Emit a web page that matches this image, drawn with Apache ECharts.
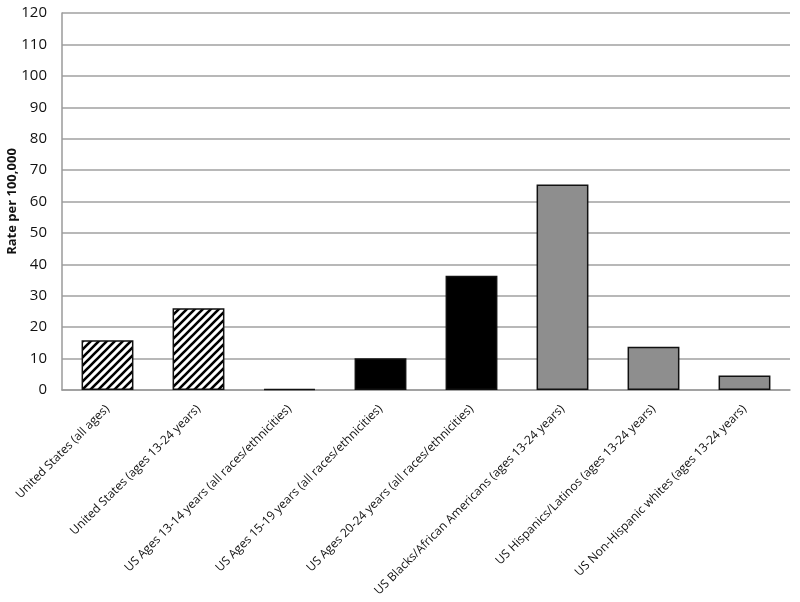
<!DOCTYPE html>
<html>
<head>
<meta charset="utf-8">
<script src="https://cdn.jsdelivr.net/npm/echarts@6/dist/echarts.min.js"></script>
<style>
  html, body { margin: 0; padding: 0; background: #fff; }
  #chart { width: 800px; height: 602px; }
</style>
</head>
<body>
<div id="chart"></div>
<script>
const categories = [
  'United States (all ages)',
  'United States (ages 13-24 years)',
  'US Ages 13-14 years (all races/ethnicities)',
  'US Ages 15-19 years (all races/ethnicities)',
  'US Ages 20-24 years (all races/ethnicities)',
  'US Blacks/African Americans (ages 13-24 years)',
  'US Hispanics/Latinos (ages 13-24 years)',
  'US Non-Hispanic whites (ages 13-24 years)'
]
const rates = [15.8, 26.0, 0.3, 10.1, 36.4, 65.4, 13.8, 4.6]
// 0 = hatched, 1 = black, 2 = gray
const styleGroup = [0, 0, 1, 1, 1, 2, 2, 2]

// diagonal stripe pattern for the first two bars
function makeHatch () {
  const c = document.createElement('canvas')
  c.width = 8
  c.height = 8
  const ctx = c.getContext('2d')
  ctx.fillStyle = '#fff'
  ctx.fillRect(0, 0, 8, 8)
  ctx.strokeStyle = '#000'
  ctx.lineWidth = 2.6
  ctx.beginPath()
  ctx.moveTo(-2, 10); ctx.lineTo(10, -2)
  ctx.moveTo(-6, 6); ctx.lineTo(6, -6)
  ctx.moveTo(2, 14); ctx.lineTo(14, 2)
  ctx.stroke()
  return c
}
const hatch = makeHatch()

const fills = [
  { image: hatch, repeat: 'repeat' },
  '#000000',
  '#8e8e8e'
]

const chart = echarts.init(document.getElementById('chart'))
chart.setOption({
  animation: false,
  grid: { left: 62, right: 10, top: 13, bottom: 212, containLabel: false, outerBoundsMode: 'none' },
  xAxis: {
    type: 'category',
    data: categories,
    axisLine: { lineStyle: { color: '#9a9a9a', width: 1.5 } },
    axisTick: { show: false },
    axisLabel: {
      rotate: 45,
      interval: 0,
      color: '#111',
      fontFamily: 'Open Sans',
      fontSize: 12,
      margin: 17
    }
  },
  yAxis: {
    type: 'value',
    min: 0,
    max: 120,
    interval: 10,
    name: 'Rate per 100,000',
    nameLocation: 'middle',
    nameGap: 43,
    nameMoveOverlap: false,
    nameTextStyle: { fontFamily: 'Open Sans', fontWeight: 'bold', fontSize: 13, color: '#111' },
    axisLine: { show: true, lineStyle: { color: '#9a9a9a', width: 1.5 } },
    axisTick: { show: false },
    axisLabel: { color: '#111', fontFamily: 'Open Sans', fontSize: 15, margin: 15 },
    splitLine: { lineStyle: { color: '#a0a0a0', width: 1.5 } }
  },
  series: [{
    type: 'bar',
    barWidth: '57%',
    data: rates.map((v, i) => ({
      value: v,
      itemStyle: {
        color: fills[styleGroup[i]],
        borderColor: '#111',
        borderWidth: 1.5
      }
    }))
  }]
})
</script>
</body>
</html>
